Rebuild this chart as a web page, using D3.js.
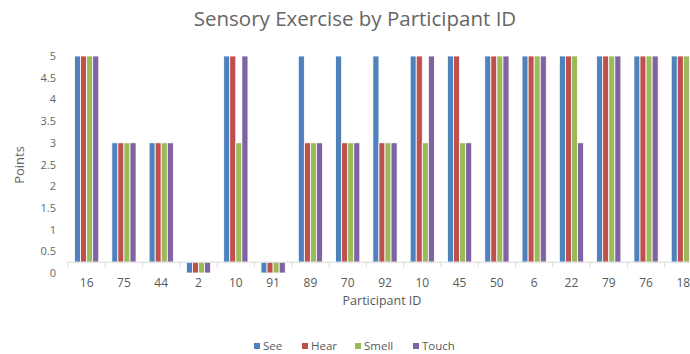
<!DOCTYPE html>
<html><head><meta charset="utf-8">
<script src="https://cdn.jsdelivr.net/npm/d3@7"></script>
<style>body{margin:0;background:#fff}svg{display:block}text{font-family:"Open Sans",Lato,sans-serif;fill:#595959}</style>
</head><body><svg id="c" width="690" height="354"></svg>
<script>
const categories = ["16","75","44","2","10","91","89","70","92","10","45","50","6","22","79","76","18"];
const seriesNames = ["See","Hear","Smell","Touch"];
const see   = [5,3,3,0,5,0,5,5,5,5,5,5,5,5,5,5,5];
const hear  = [5,3,3,0,5,0,3,3,3,5,5,5,5,5,5,5,5];
const smell = [5,3,3,0,3,0,3,3,3,3,3,5,5,5,5,5,5];
const touch = [5,3,3,0,5,0,3,3,3,5,3,5,5,3,5,5,5];
const yTicks = [0,0.5,1,1.5,2,2.5,3,3.5,4,4.5,5];
const axisCross = 0.25;
const colors = ["#4F81BD","#C0504D","#9BBB59","#8064A2"];

const series = [see,hear,smell,touch];
const svg = d3.select("#c");
const idx = categories.map((d,i)=>i);
const x = d3.scaleBand().domain(idx).range([68,702]).paddingInner(0.35).paddingOuter(0.175);
const xs = d3.scaleBand().domain(d3.range(4)).range([0,x.bandwidth()]);
const y = d3.scaleLinear().domain([0,5]).range([273,56]);
const base = y(axisCross);

svg.append("text").attr("x",355).attr("y",26).attr("text-anchor","middle").style("font-size","20.5px").style("fill","#666").text("Sensory Exercise by Participant ID");

// bars
const g = svg.append("g");
idx.forEach(i=>{
  series.forEach((s,k)=>{
    const v = s[i];
    g.append("rect").attr("x",x(i)+xs(k)).attr("width",xs.bandwidth())
      .attr("y",Math.min(y(v),base)).attr("height",Math.abs(y(v)-base))
      .attr("fill",colors[k]).attr("stroke","#fff").attr("stroke-width",0.8);
  });
});

// x axis
const step = x.step();
const ax = svg.append("g");
ax.append("line").attr("x1",68).attr("x2",690).attr("y1",base).attr("y2",base).attr("stroke","#d9d9d9");
idx.forEach(i=>{
  const bx = x(i) - x.paddingInner()*step/2;
  ax.append("line").attr("x1",bx).attr("x2",bx).attr("y1",base).attr("y2",base+5).attr("stroke","#d9d9d9");
  ax.append("text").attr("x",x(i)+x.bandwidth()/2).attr("y",287).attr("text-anchor","middle").style("font-size","12px").text(categories[i]);
});

// y labels
yTicks.forEach(t=>{
  svg.append("text").attr("x",56).attr("y",y(t)+4).attr("text-anchor","end").style("font-size","11px").style("fill","#666").text(t);
});
svg.append("text").attr("transform","translate(24,165) rotate(-90)").attr("text-anchor","middle").style("font-size","13px").style("fill","#666").text("Points");
svg.append("text").attr("x",382).attr("y",305).attr("text-anchor","middle").style("font-size","12.5px").text("Participant ID");

// legend
const legX = [254,302,355,413];
seriesNames.forEach((n,k)=>{
  svg.append("rect").attr("x",legX[k]).attr("y",343).attr("width",6).attr("height",6).attr("fill",colors[k]);
  svg.append("text").attr("x",legX[k]+9).attr("y",350).style("font-size","11.5px").text(n);
});
</script></body></html>
